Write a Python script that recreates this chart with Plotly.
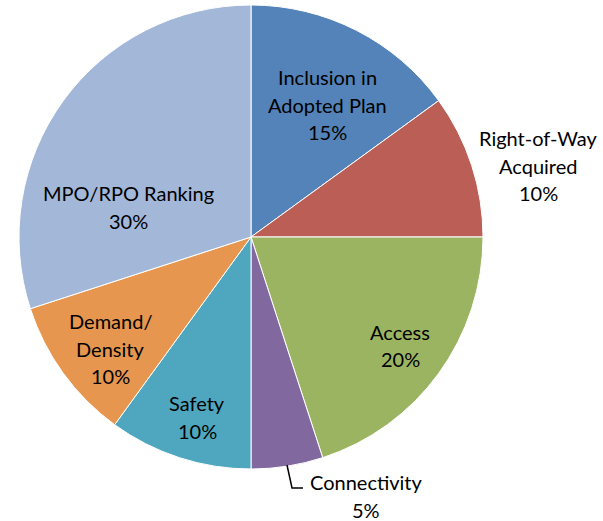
import plotly.graph_objects as go

W, H = 603, 521

# slice data, clockwise from 12 o'clock
labels = ['Inclusion in Adopted Plan', 'Right-of-Way Acquired', 'Access', 'Connectivity',
          'Safety', 'Demand/Density', 'MPO/RPO Ranking']
values = [15, 10, 20, 5, 10, 10, 30]
colors = ['#5383B8', '#BA5E56', '#9BB462', '#8169A0', '#4FA7BF', '#E6964F', '#A3B7D8']

# how each label breaks into lines (last line is the percentage)
label_lines = [['Inclusion in', 'Adopted Plan'], ['Right-of-Way', 'Acquired'], ['Access'],
               ['Connectivity'], ['Safety'], ['Demand/', 'Density'], ['MPO/RPO Ranking']]
# pixel centre of first line for each label
label_pos = [(327, 77), (538, 138), (400, 332), (366, 482), (197, 403), (110, 321), (128, 193)]
LINE_H = 27.5


def px(x, y):
    """pixel coords -> paper coords"""
    return x / W, 1 - y / H


cx, cy, r = 251, 237, 232

x0, y1 = px(cx - r, cy - r)
x1, y0 = px(cx + r, cy + r)
fig = go.Figure(go.Pie(
    labels=labels,
    values=values,
    sort=False,
    direction='clockwise',
    rotation=0,
    marker=dict(colors=colors, line=dict(color='white', width=1)),
    textinfo='none',
    hoverinfo='label+percent',
    showlegend=False,
    domain=dict(x=[x0, x1], y=[y0, y1]),
))

annotations = []
total = sum(values)
for lines, v, (x, y) in zip(label_lines, values, label_pos):
    all_lines = lines + [f'{round(100 * v / total)}%']
    for i, t in enumerate(all_lines):
        ax, ay = px(x, y + i * LINE_H)
        annotations.append(dict(
            text=t, x=ax, y=ay, xref='paper', yref='paper', showarrow=False,
            xanchor='center', yanchor='middle', borderpad=0,
            font=dict(family='Lato', size=20, color='black'),
        ))

# leader line for Connectivity
p1, p2, p3 = px(287, 465), px(292, 488), px(303, 488)
fig.add_shape(type='path', xref='paper', yref='paper',
              path=f'M {p1[0]} {p1[1]} L {p2[0]} {p2[1]} L {p3[0]} {p3[1]}',
              line=dict(color='black', width=1.5))

fig.update_layout(
    width=W, height=H,
    margin=dict(l=0, r=0, t=0, b=0),
    paper_bgcolor='white',
    plot_bgcolor='white',
    annotations=annotations,
)

# drop the default 8px page margin so the figure sits at the window corner
fig.write_html('out.html', config={'displayModeBar': False},
               post_script="document.body.style.margin='0';")
